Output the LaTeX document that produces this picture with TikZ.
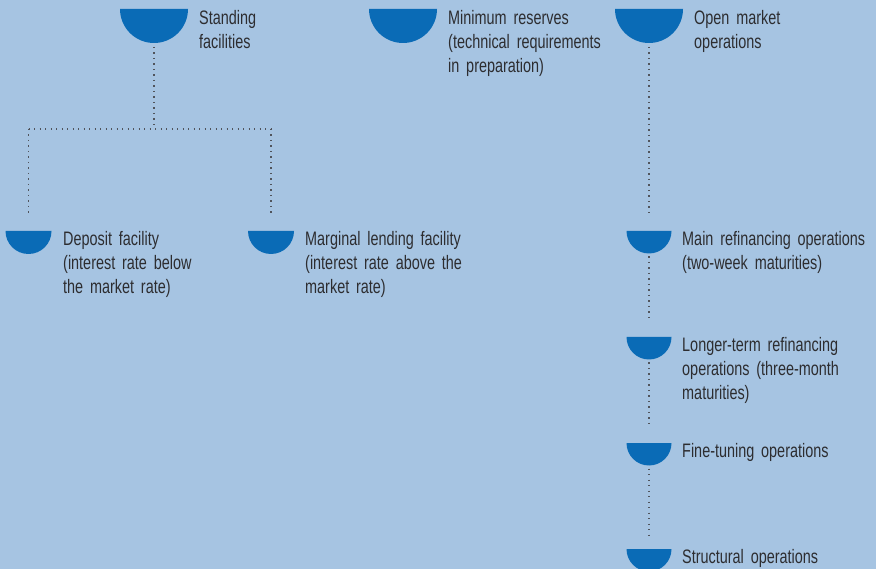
\documentclass[tikz,border=0pt]{standalone}
\usepackage{fontspec}
\setmainfont{Liberation Sans}[FakeStretch=0.74,WordSpace=1.7]
\definecolor{bgblue}{RGB}{166,196,226}
\definecolor{bowlblue}{RGB}{10,107,182}
\definecolor{txtgray}{RGB}{45,45,48}
\definecolor{dotgray}{RGB}{80,84,92}
\begin{document}
\begin{tikzpicture}[x=1pt,y=-1pt,
  bowl/.style={minimum width=2*#1 pt, minimum height=#1 pt, inner sep=0pt, outer sep=0pt, anchor=north,
    path picture={\fill[bowlblue] (path picture bounding box.north west) arc[start angle=180,end angle=360,radius=#1 pt] -- cycle;}},
  label/.style={anchor=north west, inner sep=0pt, align=left, text=txtgray, font=\fontsize{19.5}{24}\selectfont},
  dots/.style={draw=dotgray, line width=1.3pt, dash pattern=on 1.3pt off 4.2pt}]
\fill[bgblue] (0,0) rectangle (876,569);
\useasboundingbox (0,0) rectangle (876,569);
% top level
\node[bowl=34] (sf) at (154,9) {};
\node[label] (sft) at (199,10) {Standing\\facilities};
\node[bowl=34] (mr) at (403,9) {};
\node[label] (mrt) at (448,10) {Minimum reserves\\(technical requirements\\in preparation)};
\node[bowl=34] (om) at (649,9) {};
\node[label] (omt) at (694,10) {Open market\\operations};
% standing facilities children
\node[bowl=23] (dep) at (28.5,231) {};
\node[label] (dept) at (63,231) {Deposit facility\\(interest rate below\\the market rate)};
\node[bowl=23] (mlf) at (271,231) {};
\node[label] (mlft) at (305,231) {Marginal lending facility\\(interest rate above the\\market rate)};
% open market children
\node[bowl=22.5] (mro) at (649,231) {};
\node[label] (mrot) at (682,231) {Main refinancing operations\\(two-week maturities)};
\node[bowl=22.5] (ltro) at (649,337) {};
\node[label] (ltrot) at (682,337) {Longer-term refinancing\\operations (three-month\\maturities)};
\node[bowl=22.5] (fto) at (649,443) {};
\node[label] (ftot) at (682,443) {Fine-tuning operations};
\node[bowl=22.5] (so) at (649,549) {};
\node[label] (sot) at (682,549) {Structural operations};
% connectors
\coordinate (j) at (154,129);
\coordinate (jl) at (dep.north |- j);
\coordinate (jr) at (mlf.north |- j);
\draw[dots, shorten <=4pt] (sf.south) -- (j);
\draw[dots] (jl) -- (jr);
\draw[dots, shorten >=18pt] (jl) -- (dep.north);
\draw[dots, shorten >=18pt] (jr) -- (mlf.north);
\draw[dots, shorten <=4pt, shorten >=18pt] (om.south) -- (mro.north);
\draw[dots, shorten <=3pt, shorten >=19pt] (mro.south) -- (ltro.north);
\draw[dots, shorten <=3pt, shorten >=19pt] (ltro.south) -- (fto.north);
\draw[dots, shorten <=3pt, shorten >=12pt] (fto.south) -- (so.north);
\end{tikzpicture}
\end{document}
